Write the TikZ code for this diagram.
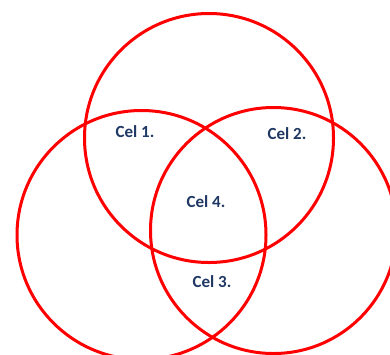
\documentclass[tikz,border=0pt]{standalone}
\usepackage{fontspec}
\setmainfont{Carlito}
\definecolor{ringred}{RGB}{255,0,0}
\definecolor{labelblue}{RGB}{31,56,100}
\begin{document}
\begin{tikzpicture}[x=1pt,y=-1pt,
  ring/.style={draw=ringred,line width=3pt},
  lbl/.style={text=labelblue,font=\fontsize{17}{20}\selectfont\bfseries,inner sep=0pt}]
\useasboundingbox (0,0) rectangle (390,354);
\clip (0,0) rectangle (390,354);
\draw[ring] (209,138) circle[radius=124.5] coordinate (top);
\draw[ring] (141.5,235) circle[radius=124.5] coordinate (left);
\draw[ring] (273.5,230.5) circle[radius=123] coordinate (right);
\node[lbl] (c1) at (135,132) {Cel 1.};
\node[lbl] (c2) at (287,134) {Cel 2.};
\node[lbl] (c4) at (206,202) {Cel 4.};
\node[lbl] (c3) at (212,282) {Cel 3.};
\end{tikzpicture}
\end{document}
